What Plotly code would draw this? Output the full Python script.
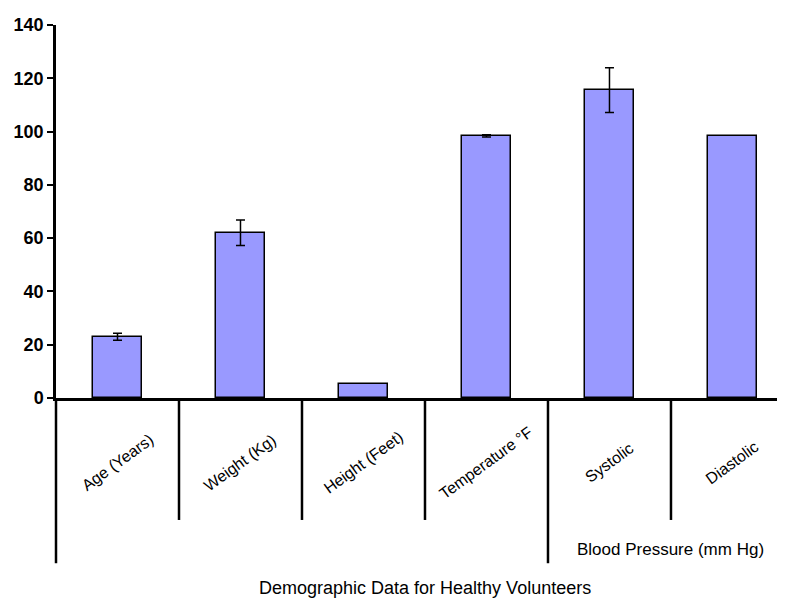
import plotly.graph_objects as go

categories = ["Age (Years)", "Weight (Kg)", "Height (Feet)", "Temperature °F", "Systolic", "Diastolic"]
values = [23.0, 62.0, 5.2, 98.4, 115.6, 98.2]
errors = [1.3, 4.8, None, 0.4, 8.4, None]
y_ticks = [0, 20, 40, 60, 80, 100, 120, 140]
group_label = "Blood Pressure (mm Hg)"
x_title = "Demographic Data for Healthy Volunteers"

FONT = "Liberation Sans, Arial, sans-serif"

idx_err = [i for i, e in enumerate(errors) if e is not None]
idx_noerr = [i for i, e in enumerate(errors) if e is None]

fig = go.Figure()
fig.add_trace(go.Bar(
    x=idx_err,
    y=[values[i] for i in idx_err],
    width=0.4,
    marker=dict(color="#9999FF", line=dict(color="#000000", width=1.5)),
    error_y=dict(type="data", array=[errors[i] for i in idx_err], visible=True,
                 color="#000000", thickness=1.5, width=4.5),
    showlegend=False,
))
fig.add_trace(go.Bar(
    x=idx_noerr,
    y=[values[i] for i in idx_noerr],
    width=0.4,
    marker=dict(color="#9999FF", line=dict(color="#000000", width=1.5)),
    showlegend=False,
))

shapes = []
n = len(categories)
for i in range(n):
    xb = i - 0.5
    y_end = -0.443 if i in (0, 4) else -0.327
    if i == 0:
        shapes.append(dict(type="line", xref="paper", yref="paper", x0=0, x1=0,
                           y0=0, y1=y_end, line=dict(color="#000000", width=2.5)))
    else:
        shapes.append(dict(type="line", xref="x", yref="paper", x0=xb, x1=xb,
                           y0=0, y1=y_end, line=dict(color="#000000", width=2.5)))

annotations = []
for i, c in enumerate(categories):
    annotations.append(dict(x=i, y=-0.174, xref="x", yref="paper", text=c,
                            showarrow=False, textangle=-36,
                            font=dict(family=FONT, size=16, color="#000000"),
                            xanchor="center", yanchor="middle"))
annotations.append(dict(x=4.5, y=-0.405, xref="x", yref="paper", text=group_label,
                        showarrow=False, font=dict(family=FONT, size=17, color="#000000"),
                        xanchor="center", yanchor="middle"))
annotations.append(dict(x=2.5, y=-0.51, xref="x", yref="paper", text=x_title,
                        showarrow=False, font=dict(family=FONT, size=18, color="#000000"),
                        xanchor="center", yanchor="middle"))

fig.update_layout(
    width=777, height=591,
    margin=dict(l=48, r=0, t=17, b=201),
    paper_bgcolor="white", plot_bgcolor="white",
    shapes=shapes, annotations=annotations,
    barmode="overlay", bargap=0,
)
fig.update_xaxes(
    range=[-0.5, 5.427], showticklabels=False, ticks="", showgrid=False,
    zeroline=False, showline=True, linecolor="#000000", linewidth=2.5,
)
fig.update_yaxes(
    range=[0, 140], tickvals=y_ticks, ticks="outside", ticklen=6,
    tickwidth=2, tickcolor="#000000", showgrid=False, zeroline=False,
    showline=True, linecolor="#000000", linewidth=2.5,
    tickfont=dict(family=FONT, size=18, color="#000000", weight="bold"),
)

fig.write_html("out.html")
